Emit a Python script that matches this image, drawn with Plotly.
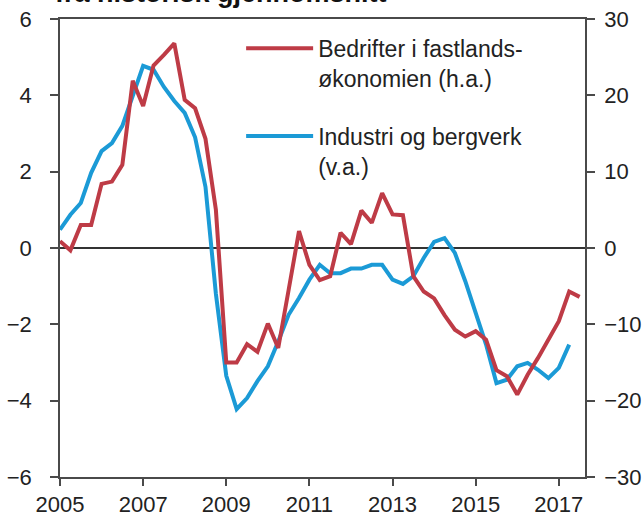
import plotly.graph_objects as go

# Quarterly observations, 2005 Q1 onward
start_year = 2005
industri_va = [0.48, 0.87, 1.18, 1.97, 2.54, 2.75, 3.2, 3.98, 4.77, 4.67,
               4.22, 3.85, 3.54, 2.9, 1.6, -1.2, -3.35, -4.22, -3.93, -3.49,
               -3.1, -2.45, -1.75, -1.31, -0.83, -0.44, -0.66, -0.66, -0.54, -0.54,
               -0.44, -0.44, -0.83, -0.94, -0.74, -0.26, 0.16, 0.26, -0.13, -0.87,
               -1.66, -2.53, -3.54, -3.45, -3.1, -3.01, -3.19, -3.41, -3.14, -2.53]
bedrifter_ha = [0.9, -0.3, 3.0, 3.0, 8.4, 8.7, 10.9, 21.9, 18.6, 23.9,
                25.3, 26.8, 19.4, 18.3, 14.3, 5.0, -15.0, -15.0, -12.6, -13.6,
                -9.9, -13.1, -5.5, 2.2, -2.2, -4.2, -3.7, 2.0, 0.5, 4.9,
                3.3, 7.2, 4.4, 4.3, -3.7, -5.7, -6.6, -8.8, -10.7, -11.6,
                -10.9, -12.0, -16.0, -16.8, -19.2, -16.6, -14.4, -12.0, -9.6, -5.7, -6.4]

x_ticks = [2005, 2007, 2009, 2011, 2013, 2015, 2017]
left_ticks = [-6, -4, -2, 0, 2, 4, 6]
right_ticks = [-30, -20, -10, 0, 10, 20, 30]

x_red = [start_year + q / 4 for q in range(len(bedrifter_ha))]
x_blue = [start_year + q / 4 for q in range(len(industri_va))]

RED = "#BE3B46"
BLUE = "#1B9AD6"
AX = "#4a4a4a"
FONT = "Liberation Sans, Arial, sans-serif"
TICKFONT = dict(family=FONT, size=22, color="#222222")

fig = go.Figure()
fig.add_trace(go.Scatter(
    x=x_red, y=bedrifter_ha, yaxis="y2", mode="lines",
    name="Bedrifter i fastlands-<br>økonomien (h.a.)",
    line=dict(color=RED, width=4), legendgroup="a"))
fig.add_trace(go.Scatter(
    x=x_blue, y=industri_va, yaxis="y", mode="lines",
    name="Industri og bergverk<br>(v.a.)",
    line=dict(color=BLUE, width=4), legendgroup="b"))

fig.update_layout(
    width=642, height=518,
    margin=dict(l=60, r=57, t=19, b=41, autoexpand=False),
    paper_bgcolor="white", plot_bgcolor="white",
    font=dict(family=FONT, size=23, color="#222222"),
    showlegend=True,
    hovermode=False,
    legend=dict(x=0.345, y=0.983, xanchor="left", yanchor="top",
                bgcolor="rgba(0,0,0,0)", itemwidth=67, valign="top",
                tracegroupgap=25, font=dict(size=23, color="#222222"),
                itemclick=False),
    xaxis=dict(range=[2005, 2017.63], tickvals=x_ticks, ticktext=[str(t) for t in x_ticks],
               automargin=False, tickfont=TICKFONT,
               showgrid=False, zeroline=False, showline=True, linecolor=AX, linewidth=1.5,
               mirror=True, ticks="outside", ticklen=7, tickwidth=1.5, tickcolor=AX,
               ticklabelstandoff=0),
    yaxis=dict(range=[-6, 6], tickvals=left_ticks, showgrid=False, automargin=False,
               tickfont=TICKFONT,
               zeroline=True, zerolinecolor="#333333", zerolinewidth=1.5,
               showline=True, linecolor=AX, linewidth=1.5,
               ticks="outside", ticklen=8, tickwidth=1.5, tickcolor=AX,
               ticklabelstandoff=14),
    yaxis2=dict(range=[-30, 30], tickvals=right_ticks, overlaying="y", side="right",
                automargin=False, tickfont=TICKFONT,
                showgrid=False, zeroline=False, showline=True, linecolor=AX, linewidth=1.5,
                ticks="outside", ticklen=8, tickwidth=1.5, tickcolor=AX,
                ticklabelstandoff=5),
    annotations=[dict(text="<b>fra historisk gjennomsnitt</b>", xref="paper", yref="paper",
                      x=-0.013, y=1.019, xanchor="left", yanchor="bottom",
                      showarrow=False, font=dict(size=27, color="#111111", family=FONT))],
)

fig.write_html("out.html", config={"displayModeBar": False},
               post_script="document.body.style.margin='0';")
